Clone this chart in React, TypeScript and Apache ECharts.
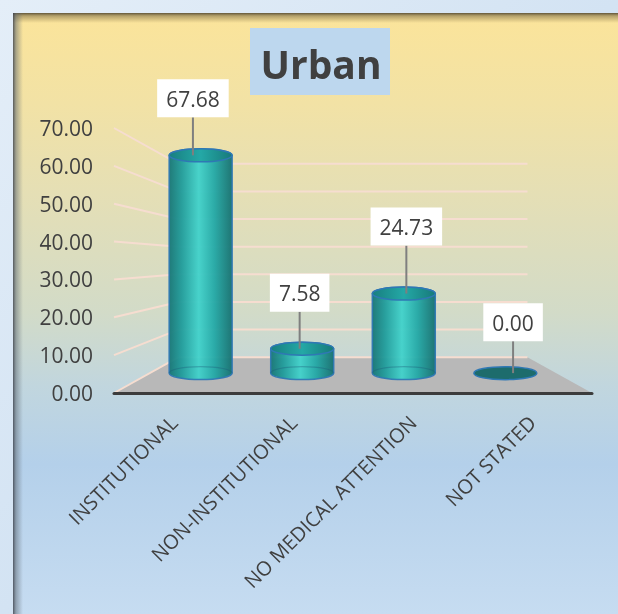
import React, { useEffect, useRef } from "react";
import * as echarts from "echarts";

const CATEGORIES = ["INSTITUTIONAL", "NON-INSTITUTIONAL", "NO MEDICAL ATTENTION", "NOT STATED"];
const VALUES = [67.68, 7.58, 24.73, 0.0];
const Y_TICKS = [0, 10, 20, 30, 40, 50, 60, 70];
const TITLE = "Urban";
// vertical distance (px) from bar top to the bottom of each data-label box
const LABEL_LIFT = [38, 37, 48, 32];

const BACK_SCALE = 0.73; // back plane scale relative to front plane
const BAR_SCALE = 0.85; // depth where the cylinders stand
const LABEL_SCALE = 0.893; // depth used for the data labels
const FONT = '"Open Sans", "Noto Sans", sans-serif';

function projector(cs: any) {
  const cx = cs.x + cs.width / 2;
  const cy = cs.y + cs.height / 2;
  return (x: number, y: number, s: number) => [cx + (x - cx) * s, cy + (y - cy) * s];
}

export default function App() {
  const ref = useRef<HTMLDivElement>(null);
  useEffect(() => {
    const chart = echarts.init(ref.current!, null, { renderer: "svg" });

    const sceneItem = (params: any, api: any) => {
      const cs = params.coordSys;
      const P = projector(cs);
      const left = cs.x;
      const right = cs.x + cs.width;
      const y0 = api.coord([0, 0])[1];
      const children: any[] = [];
      children.push({
        type: "polygon",
        shape: { points: [[left, y0], [right, y0], P(right, y0, BACK_SCALE), P(left, y0, BACK_SCALE)] },
        style: { fill: "#b8b8b8" },
      });
      Y_TICKS.forEach((v) => {
        const y = api.coord([0, v])[1];
        const bl = P(left, y, BACK_SCALE);
        const br = P(right, y, BACK_SCALE);
        children.push({
          type: "line",
          shape: { x1: left, y1: y, x2: bl[0], y2: bl[1] },
          style: { stroke: "#f6ddd0", lineWidth: 2 },
        });
        children.push({
          type: "line",
          shape: { x1: bl[0], y1: bl[1], x2: br[0], y2: br[1] },
          style: { stroke: "#f6ddd0", lineWidth: 2 },
        });
      });
      return { type: "group", children };
    };

    const cylItem = (params: any, api: any) => {
      const P = projector(params.coordSys);
      const i = api.value(0);
      const v = api.value(1);
      const top = api.coord([i, v]);
      const base = api.coord([i, 0]);
      const t = P(top[0], top[1], BAR_SCALE);
      const b = P(base[0], base[1], BAR_SCALE);
      const w = api.size([1, 0])[0] * BAR_SCALE * 0.62;
      const rx = w / 2;
      const ry = 6.5;
      const L = t[0] - rx;
      const R = t[0] + rx;
      const body = `M${L},${t[1]} L${L},${b[1]} A${rx},${ry} 0 0 0 ${R},${b[1]} L${R},${t[1]} A${rx},${ry} 0 0 0 ${L},${t[1]} Z`;
      const backEdge = `M${L},${b[1]} A${rx},${ry} 0 0 1 ${R},${b[1]}`;
      const children: any[] = [];
      if (b[1] - t[1] > 0.5) {
        children.push({
          type: "path",
          shape: { pathData: body },
          style: {
            fill: {
              type: "linear", x: 0, y: 0, x2: 1, y2: 0,
              colorStops: [
                { offset: 0, color: "#167676" },
                { offset: 0.2, color: "#1f9c9b" },
                { offset: 0.47, color: "#40d2cb" },
                { offset: 0.72, color: "#22a8a6" },
                { offset: 1, color: "#157070" },
              ],
            },
            stroke: "#2f78b4",
            lineWidth: 1.5,
            opacity: 0.95,
          },
        });
        children.push({
          type: "path",
          shape: { pathData: backEdge },
          style: { fill: "none", stroke: "rgba(30,90,120,0.35)", lineWidth: 1.2 },
        });
      }
      children.push({
        type: "ellipse",
        shape: { cx: t[0], cy: t[1], rx, ry },
        style: {
          fill: v > 0
            ? {
                type: "linear", x: 0, y: 0, x2: 1, y2: 0,
                colorStops: [
                  { offset: 0, color: "#187f80" },
                  { offset: 0.5, color: "#24a8a6" },
                  { offset: 1, color: "#177a7a" },
                ],
              }
            : "#1d6c6c",
          stroke: "#2f78b4",
          lineWidth: 1.5,
        },
      });
      return { type: "group", children };
    };

    const labelItem = (params: any, api: any) => {
      const P = projector(params.coordSys);
      const i = api.value(0);
      const v = api.value(1);
      const top = api.coord([i, v]);
      const t = P(top[0], top[1], BAR_SCALE);
      const lx = P(top[0], top[1], LABEL_SCALE)[0];
      const boxBottom = t[1] - LABEL_LIFT[i];
      return {
        type: "group",
        children: [
          {
            type: "line",
            shape: { x1: lx, y1: boxBottom, x2: lx, y2: t[1] },
            style: { stroke: "#7f7f7f", lineWidth: 2 },
          },
          {
            type: "text",
            x: lx,
            y: boxBottom,
            style: {
              text: v.toFixed(2),
              align: "center",
              verticalAlign: "bottom",
              fill: "#404040",
              fontSize: 21,
              fontFamily: FONT,
              lineHeight: 25,
              backgroundColor: "#ffffff",
              padding: [7, 9, 6, 9],
            },
          },
        ],
      };
    };

    const data = VALUES.map((v, i) => [i, v]);

    chart.setOption({
      animation: false,
      graphic: [
        {
          type: "rect", z: -100, silent: true,
          shape: { x: 0, y: 0, width: 618, height: 614 },
          style: {
            fill: {
              type: "linear", x: 0, y: 0, x2: 1, y2: 1,
              colorStops: [
                { offset: 0, color: "#e4eef8" },
                { offset: 1, color: "#c2d8ee" },
              ],
            },
          },
        },
        {
          type: "rect", z: -99, silent: true,
          shape: { x: 13, y: 13, width: 605, height: 601 },
          style: {
            fill: {
              type: "linear", x: 0, y: 0, x2: 0, y2: 1,
              colorStops: [
                { offset: 0, color: "#fbe49a" },
                { offset: 0.15, color: "#f2e2a5" },
                { offset: 0.3, color: "#e5dfb5" },
                { offset: 0.5, color: "#d2dbc8" },
                { offset: 0.62, color: "#c1d6de" },
                { offset: 0.75, color: "#b4d0ea" },
                { offset: 1, color: "#c6dcf1" },
              ],
            },
          },
        },
        {
          type: "rect", z: -98, silent: true,
          shape: { x: 13, y: 13, width: 605, height: 10 },
          style: {
            fill: {
              type: "linear", x: 0, y: 0, x2: 0, y2: 1,
              colorStops: [
                { offset: 0, color: "rgba(70,60,40,0.85)" },
                { offset: 0.3, color: "rgba(110,95,60,0.5)" },
                { offset: 1, color: "rgba(120,100,60,0)" },
              ],
            },
          },
        },
        {
          type: "rect", z: -98, silent: true,
          shape: { x: 13, y: 13, width: 10, height: 601 },
          style: {
            fill: {
              type: "linear", x: 0, y: 0, x2: 1, y2: 0,
              colorStops: [
                { offset: 0, color: "rgba(60,65,75,0.85)" },
                { offset: 0.3, color: "rgba(90,100,110,0.5)" },
                { offset: 1, color: "rgba(100,110,120,0)" },
              ],
            },
          },
        },
        {
          type: "rect", z: 10, silent: true,
          shape: { x: 250, y: 28, width: 140, height: 67 },
          style: { fill: "#bdd7ee" },
        },
        {
          type: "text", z: 11, silent: true,
          x: 321, y: 63,
          style: {
            text: TITLE,
            align: "center",
            verticalAlign: "middle",
            fill: "#404040",
            fontSize: 39,
            fontWeight: "bold",
            fontFamily: FONT,
          },
        },
      ],
      grid: { left: 114, right: 26, top: 128, bottom: 221, containLabel: false },
      xAxis: {
        type: "category",
        data: CATEGORIES,
        axisLine: { show: true, lineStyle: { color: "#3c3c3c", width: 3 } },
        axisTick: { show: false },
        axisLabel: {
          rotate: 45,
          interval: 0,
          margin: 26,
          fontSize: 20,
          fontFamily: FONT,
          color: "#404040",
        },
        z: 5,
      },
      yAxis: {
        type: "value",
        min: 0,
        max: 70,
        interval: 10,
        axisLine: { show: false },
        axisTick: { show: false },
        splitLine: { show: false },
        axisLabel: {
          margin: 21,
          fontSize: 21,
          fontFamily: FONT,
          color: "#404040",
          formatter: (v: number) => v.toFixed(2),
        },
      },
      series: [
        { type: "custom", name: "scene", z: 1, silent: true, data: [[0, 0]], renderItem: sceneItem },
        { type: "custom", name: "Urban", z: 3, silent: true, data, renderItem: cylItem },
        { type: "custom", name: "labels", z: 4, silent: true, data, renderItem: labelItem },
      ],
    });
    return () => chart.dispose();
  }, []);
  return (
    <div
      ref={ref}
      style={{ position: "fixed", left: 0, top: 0, width: 618, height: 614 }}
    />
  );
}
